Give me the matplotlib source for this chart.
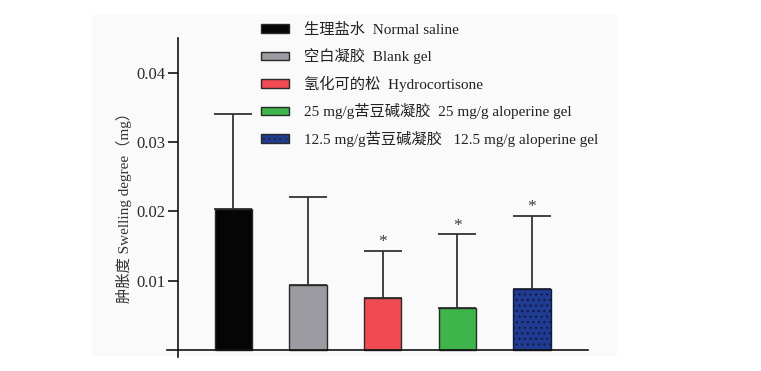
import matplotlib
matplotlib.use("Agg")
import matplotlib.pyplot as plt
from matplotlib.patches import Rectangle, Patch
import numpy as np

plt.rcParams['font.family'] = ['Liberation Serif', 'Noto Sans CJK SC']
plt.rcParams['hatch.linewidth'] = 0.8

# ---- data ----
labels = ["生理盐水  Normal saline",
          "空白凝胶  Blank gel",
          "氢化可的松  Hydrocortisone",
          "25 mg/g苦豆碱凝胶  25 mg/g aloperine gel",
          "12.5 mg/g苦豆碱凝胶   12.5 mg/g aloperine gel"]
means = [0.0204, 0.0094, 0.0075, 0.0060, 0.0088]
errors = [0.0137, 0.0127, 0.0068, 0.0107, 0.0106]
significant = [False, False, True, True, True]
colors = ["#050505", "#9b9ba1", "#f04a52", "#3db54a", "#1f3b92"]
hatches = [None, None, None, None, "..."]
yticks = [0.01, 0.02, 0.03, 0.04]
ylabel = "肿胀度 Swelling degree（mg）"

W, H = 761, 371
fig = plt.figure(figsize=(W / 100, H / 100), dpi=100)
fig.patch.set_facecolor("white")
# light grey panel
bg = fig.add_axes([92 / W, 1 - 356 / H, 525 / W, 341 / H], zorder=-10)
bg.set_facecolor("#fafafa")
bg.set_axis_off()
bg.add_patch(Rectangle((0, 0), 1, 1, transform=bg.transAxes,
                       facecolor="#fafafa", edgecolor="none"))

ax = fig.add_axes([167 / W, (H - 356.9) / H, 421 / W, 318.8 / H], zorder=1)
ax.patch.set_alpha(0)

x = np.arange(len(means))
ax.errorbar(x, means, yerr=[np.zeros(len(errors)), errors], fmt="none",
            ecolor="#333333", elinewidth=1.3, capsize=13.5, capthick=1.3, zorder=1)
bars = ax.bar(x, means, width=0.5, color=colors, edgecolor="#2a2a2a",
              linewidth=1.0, zorder=2)
for b, h in zip(bars, hatches):
    if h:
        b.set_hatch(h)
        b.set_edgecolor("#101a3e")

for xi, m, e, s in zip(x, means, errors, significant):
    if s:
        ax.annotate("*", (xi, m + e), xytext=(0, 0.5), textcoords="offset points",
                    ha="center", va="bottom", fontsize=12.5, color="#3a3a3a")

ax.set_xlim(-0.891, 4.752)
ax.set_ylim(-0.001, 0.045)
for side in ["top", "right"]:
    ax.spines[side].set_visible(False)
ax.spines["bottom"].set_position(("data", 0))
ax.spines["left"].set_position(("data", -0.744))
ax.spines["left"].set_bounds(-0.001, 0.045)
for side in ["left", "bottom"]:
    ax.spines[side].set_linewidth(1.2)
    ax.spines[side].set_color("#111111")
ax.set_xticks([])
ax.set_yticks(yticks)
ax.set_yticklabels([f"{v:.2f}" for v in yticks])
ax.tick_params(axis="y", length=7, width=1.2, pad=2, labelsize=12, colors="#111111",
               labelcolor="#2a2a2a")

ax.set_ylabel(ylabel, fontsize=11, color="#333333")
ax.yaxis.set_label_coords(-0.082, 0.48)

handles = [Patch(facecolor=c, edgecolor="#2a2a2a", hatch=h, linewidth=1.0)
           for c, h in zip(colors, hatches)]
leg = fig.legend(handles, labels, loc="upper left",
                 bbox_to_anchor=(255 / W, 1 - 17 / H), frameon=False,
                 fontsize=11, handlelength=1.8, handleheight=0.5,
                 handletextpad=1.0, labelspacing=0.74, borderaxespad=0)
for t in leg.get_texts():
    t.set_color("#222222")

fig.savefig("out.png", dpi=100, facecolor="white")
